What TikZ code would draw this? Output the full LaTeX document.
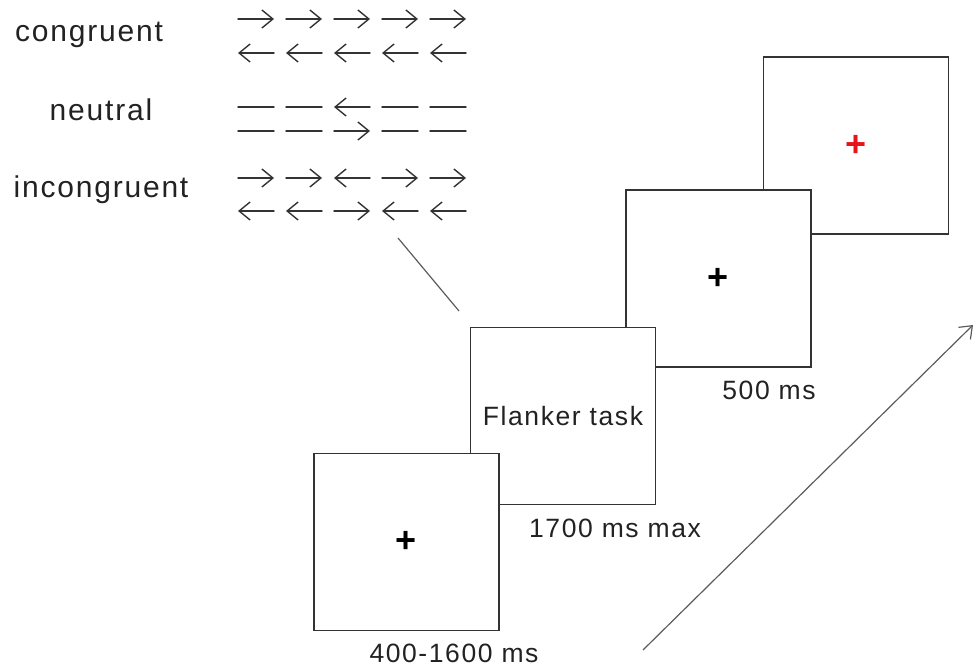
\documentclass[tikz,border=0pt]{standalone}
\usepackage{fontspec}
\setmainfont{Liberation Sans}
\usetikzlibrary{arrows.meta}
\definecolor{ink}{HTML}{222222}
\definecolor{frame}{HTML}{333333}
\definecolor{fixred}{HTML}{E8141B}
\begin{document}
\begin{tikzpicture}[x=1pt,y=-1pt,
  screen/.style={draw=frame, line width=1.25pt, fill=white, minimum width=185pt,
    minimum height=177pt, inner sep=0pt, outer sep=0pt, rectangle},
  cond/.style={text=ink, font=\fontsize{30}{34}\selectfont\addfontfeature{LetterSpace=6}, inner sep=0pt},
  lbl/.style={text=ink, font=\fontsize{26.5}{30}\selectfont\addfontfeature{LetterSpace=6}, inner sep=0pt},
  fix/.style={font=\bfseries\fontsize{36}{38}\selectfont, inner sep=0pt},
  glyph/.style={draw=frame, line width=1.4pt, line cap=round},
  rt/.style={-{Straight Barb[length=11pt,width=18pt,line width=1.4pt]}},
  lt/.style={{Straight Barb[length=11pt,width=18pt,line width=1.4pt]}-},
  link/.style={draw=frame!80, line width=1.2pt}
]
\useasboundingbox (0,0) rectangle (980,666);

% trial screens, back to front
\node[screen] (s4) at (856,145.5) {};
\node[screen] (s3) at (718.5,278.5) {};
\node[screen] (s2) at (563,416) {};
\node[screen] (s1) at (406.5,542) {};

% fixation crosses and stimulus text
\node[fix, text=fixred] (f4) at (s4.center) {+};
\node[fix, text=black] (f3) at (s3.center) {+};
\node[lbl] (task) at (s2.center) {Flanker task};
\node[fix, text=black] (f1) at (s1.center) {+};

% durations
\node[lbl, anchor=base] (d1) at (454,662) {400-1600 ms};
\node[lbl, anchor=base] (d2) at (615,537) {1700 ms max};
\node[lbl, anchor=base] (d3) at (769,399) {500 ms};

% condition names
\node[cond] (c1) at (89,35) {congruent};
\node[cond] (c2) at (101,110) {neutral};
\node[cond] (c3) at (101,190) {incongruent};

% flanker stimuli: r = right arrow, l = left arrow, n = plain dash
\foreach \y/\row in {19/{r,r,r,r,r}, 53/{l,l,l,l,l},
                     107/{n,n,l,n,n}, 131/{n,n,r,n,n},
                     178/{r,r,l,r,r}, 211/{l,l,r,l,l}}{
  \foreach \d [count=\i] in \row {
    \pgfmathsetmacro{\cx}{256+48*(\i-1)}
    \if r\d \draw[glyph,rt] (\cx-18,\y) -- (\cx+18,\y);\fi
    \if l\d \draw[glyph,lt] (\cx-18,\y) -- (\cx+18,\y);\fi
    \if n\d \draw[glyph] (\cx-18,\y) -- (\cx+18,\y);\fi
  }
}

% pointer from the stimuli to the task screen
\coordinate (p0) at (398,238);
\coordinate (p1) at (459,311);
\draw[link] (p0) -- (p1);

% time axis
\coordinate (t0) at (643,650);
\coordinate (t1) at (973,325);
\draw[link, -{Straight Barb[length=11pt,width=17pt,line width=1.2pt]}] (t0) -- (t1);
\end{tikzpicture}
\end{document}
